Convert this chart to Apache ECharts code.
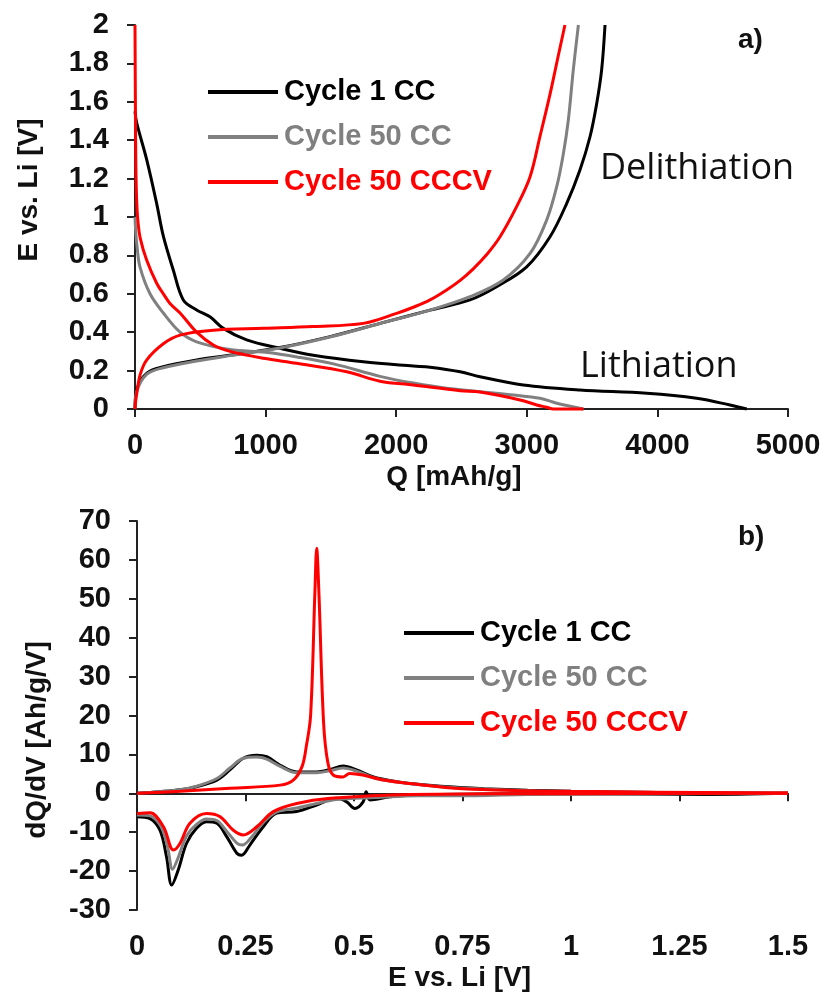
<!DOCTYPE html>
<html>
<head>
<meta charset="utf-8">
<script src="https://cdn.jsdelivr.net/npm/echarts@6/dist/echarts.min.js"></script>
<style>html,body{margin:0;padding:0;background:#fff}#c{width:827px;height:997px}</style>
</head>
<body>
<div id="c"></div>
<script>
// ---------- Panel a) : E vs Q ----------
const qTicksMax = 5000, qTickStep = 1000;
const eTicksMax = 2, eTickStep = 0.2;
const c1Lith = [[0,1.55],[13,1.49],[89,1.3],[166,1.07],[217,0.9],[293,0.724],[370,0.568],[472,0.516],[574,0.48],[676,0.42],[855,0.36],[1110,0.316],[1365,0.28],[1748,0.246],[2131,0.224],[2259,0.218],[2490,0.194],[2642,0.168],[2973,0.125],[3407,0.099],[3918,0.082],[4300,0.056],[4556,0.021],[4684,0]];
const c1Delith = [[0,0],[13,0.1],[89,0.186],[217,0.22],[472,0.255],[727,0.28],[1110,0.32],[1493,0.377],[1876,0.446],[2259,0.515],[2565,0.568],[2769,0.637],[2999,0.74],[3178,0.897],[3305,1.07],[3407,1.245],[3484,1.418],[3535,1.59],[3573,1.766],[3599,2.0]];
const c50Lith = [[0,1.0],[5,0.93],[15,0.85],[38,0.74],[115,0.6],[217,0.5],[345,0.4],[472,0.35],[727,0.31],[1000,0.295],[1250,0.27],[1520,0.235],[1876,0.17],[2131,0.135],[2386,0.108],[2897,0.073],[3101,0.056],[3229,0.03],[3433,0]];
const c50Delith = [[0,0],[13,0.09],[89,0.18],[217,0.215],[472,0.25],[727,0.278],[1110,0.318],[1493,0.375],[1876,0.445],[2259,0.515],[2565,0.585],[2820,0.672],[3025,0.81],[3152,0.984],[3229,1.158],[3280,1.33],[3318,1.505],[3356,1.766],[3395,2.0]];
const cvLith = [[0,2.0],[3,1.6],[6,1.3],[12,1.1],[22,0.98],[40,0.89],[89,0.776],[166,0.655],[217,0.6],[268,0.55],[345,0.5],[472,0.4],[600,0.333],[727,0.3],[983,0.264],[1238,0.238],[1621,0.194],[1876,0.145],[2131,0.125],[2490,0.095],[2642,0.088],[2948,0.047],[3076,0.021],[3152,0.009],[3203,0],[3433,0]];
const cvDelith = [[0,0],[5,0.04],[13,0.08],[40,0.18],[89,0.255],[217,0.34],[345,0.385],[600,0.41],[983,0.42],[1365,0.43],[1748,0.446],[2003,0.498],[2131,0.53],[2259,0.568],[2386,0.62],[2490,0.67],[2590,0.73],[2700,0.81],[2795,0.897],[2922,1.054],[3025,1.21],[3101,1.42],[3178,1.64],[3241,1.84],[3292,2.0]];

// ---------- Panel b) : dQ/dV vs E ----------
const vTicksMax = 1.5, vTickStep = 0.25;
const dqMin = -30, dqMax = 70, dqStep = 10;
const c1Up = [[0,0],[0.05,0.4],[0.1,0.9],[0.137,1.7],[0.184,3.4],[0.214,6],[0.245,9],[0.276,9.8],[0.299,9.4],[0.33,7.2],[0.368,5.5],[0.414,5.5],[0.445,6.1],[0.475,7],[0.506,6],[0.545,4.2],[0.598,3.0],[0.629,2.5],[0.7,1.8],[0.8,1.2],[0.9,0.8],[1.0,0.5],[1.2,0.2],[1.5,0]];
const c1Down = [[0,-6],[0.03,-6.5],[0.053,-9.5],[0.068,-16.3],[0.08,-23.6],[0.095,-19.7],[0.114,-12.9],[0.137,-9],[0.16,-7.3],[0.184,-7.7],[0.207,-11.2],[0.23,-15.4],[0.241,-15.9],[0.26,-13.3],[0.291,-8.6],[0.322,-5.1],[0.368,-4.7],[0.414,-3],[0.46,-1.3],[0.483,-2.2],[0.502,-3.9],[0.521,-2.2],[0.528,0.4],[0.537,-1.7],[0.583,-0.9],[0.629,-0.4],[0.8,-0.2],[1.0,-0.1],[1.3,-0.3],[1.5,0]];
const c50Up = [[0,0],[0.05,0.4],[0.1,0.9],[0.137,1.8],[0.184,3.8],[0.214,6.5],[0.245,9],[0.276,9.3],[0.299,8.8],[0.33,6.9],[0.368,5.3],[0.414,5.3],[0.445,5.8],[0.475,6.5],[0.506,5.7],[0.545,4],[0.598,2.9],[0.7,1.7],[0.8,1.1],[1.0,0.4],[1.5,0]];
const c50Down = [[0,-5.6],[0.03,-5.8],[0.055,-8.5],[0.07,-13.5],[0.082,-19.5],[0.095,-16.5],[0.114,-11],[0.137,-8],[0.16,-6.6],[0.184,-7],[0.207,-9.8],[0.23,-12.8],[0.243,-13.3],[0.262,-11.5],[0.291,-7.5],[0.322,-4.8],[0.368,-3.8],[0.414,-2.6],[0.46,-1.6],[0.55,-1.1],[0.65,-0.6],[0.78,-0.6],[0.9,-0.3],[1.5,0]];
const cvUp = [[0,0],[0.1,0.5],[0.214,1.3],[0.33,2.1],[0.36,3.4],[0.38,6.8],[0.39,12],[0.40,20],[0.41,52],[0.414,63],[0.419,52],[0.43,18],[0.44,7.7],[0.452,4.7],[0.475,4.2],[0.49,5.1],[0.52,4.7],[0.568,3.4],[0.629,2.5],[0.75,1.2],[1.0,0.5],[1.5,0.1]];
const cvDown = [[0,-5.2],[0.03,-5],[0.061,-8.6],[0.084,-14.6],[0.099,-12.9],[0.122,-7.7],[0.16,-5.2],[0.191,-6],[0.222,-9.5],[0.245,-10.7],[0.276,-8.6],[0.314,-4.7],[0.368,-2.6],[0.445,-1.3],[0.629,-0.3],[1.0,-0.1],[1.5,0]];

const names = ['Cycle 1 CC', 'Cycle 50 CC', 'Cycle 50 CCCV'];
const colors = ['#000000', '#808080', '#ff0000'];

const FONT = 'Liberation Sans';
const axisColor = '#222';
const labelStyle = {fontFamily: FONT, fontWeight: 'bold', fontSize: 29, color: '#111'};
function xAx(gi, min, max, step, name, pad) {
  return {
    type: 'value', gridIndex: gi, min: min, max: max, interval: step,
    name: name, nameLocation: 'middle', nameGap: 54,
    nameTextStyle: Object.assign({padding: pad}, labelStyle, {fontSize: 28}),
    axisLine: {show: true, lineStyle: {color: axisColor, width: 2}},
    axisTick: {show: true, inside: false, length: 8, lineStyle: {color: axisColor, width: 2}},
    splitLine: {show: false},
    axisLabel: Object.assign({margin: 22, formatter: v => String(v)}, labelStyle)
  };
}
function yAx(gi, min, max, step, name, gap, pad) {
  return {
    type: 'value', gridIndex: gi, min: min, max: max, interval: step,
    name: name, nameLocation: 'middle', nameGap: gap,
    nameTextStyle: Object.assign({padding: pad}, labelStyle, {fontSize: 28}),
    axisLine: {show: true, lineStyle: {color: axisColor, width: 2}},
    axisTick: {show: true, inside: false, length: 8, lineStyle: {color: axisColor, width: 2}},
    splitLine: {show: false},
    axisLabel: Object.assign({margin: 26, formatter: v => String(v)}, labelStyle)
  };
}
function ser(nameIdx, data, xi) {
  return {
    type: 'line', name: names[nameIdx], xAxisIndex: xi, yAxisIndex: xi,
    data: data, showSymbol: false, symbol: 'none', smooth: 0.35, clip: false,
    lineStyle: {color: colors[nameIdx], width: 3},
    itemStyle: {color: colors[nameIdx]}, animation: false, z: 2 + nameIdx
  };
}
function legend(left, top) {
  return {
    left: left, top: top, orient: 'vertical', icon: 'rect',
    itemWidth: 70, itemHeight: 4, itemGap: 11,
    data: names.map((n, i) => ({name: n, textStyle: {color: colors[i]}})),
    textStyle: {fontFamily: FONT, fontWeight: 'bold', fontSize: 29, lineHeight: 34, padding: [0, 0, 0, 1]},
    selectedMode: false
  };
}

const chart = echarts.init(document.getElementById('c'), null, {renderer: 'canvas'});
chart.setOption({
  backgroundColor: '#fff',
  animation: false,
  grid: [
    {left: 135, right: 39, top: 25, bottom: 588},
    {left: 137, right: 39, top: 521, bottom: 87}
  ],
  xAxis: [xAx(0, 0, qTicksMax, qTickStep, 'Q [mAh/g]', [0, 15, 0, 0]), xAx(1, 0, vTicksMax, vTickStep, 'E vs. Li [V]', [0, 6, 0, 0])],
  yAxis: [yAx(0, 0, eTicksMax, eTickStep, 'E vs. Li [V]', 92, [0, 0, 0, 54]), yAx(1, dqMin, dqMax, dqStep, 'dQ/dV [Ah/g/V]', 86, [0, 49, 0, 0])],
  legend: [legend(203, 70), legend(399, 611)],
  series: [
    ser(1, c50Lith, 0), ser(1, c50Delith, 0),
    ser(0, c1Lith, 0), ser(0, c1Delith, 0),
    ser(2, cvLith, 0), ser(2, cvDelith, 0),
    ser(1, c50Up, 1), ser(1, c50Down, 1),
    ser(0, c1Up, 1), ser(0, c1Down, 1),
    ser(2, cvUp, 1), ser(2, cvDown, 1)
  ],
  graphic: [
    {type: 'text', left: 738, top: 26, style: {text: 'a)', fontFamily: FONT, fontWeight: 'bold', fontSize: 28, fill: '#111'}},
    {type: 'text', left: 738, top: 523, style: {text: 'b)', fontFamily: FONT, fontWeight: 'bold', fontSize: 28, fill: '#111'}},
    {type: 'text', left: 600, top: 151, style: {text: 'Delithiation', fontFamily: 'Open Sans', fontSize: 36, fill: '#111'}},
    {type: 'text', left: 580, top: 349, style: {text: 'Lithiation', fontFamily: 'Open Sans', fontSize: 36, fill: '#111'}}
  ]
});
</script>
</body>
</html>
